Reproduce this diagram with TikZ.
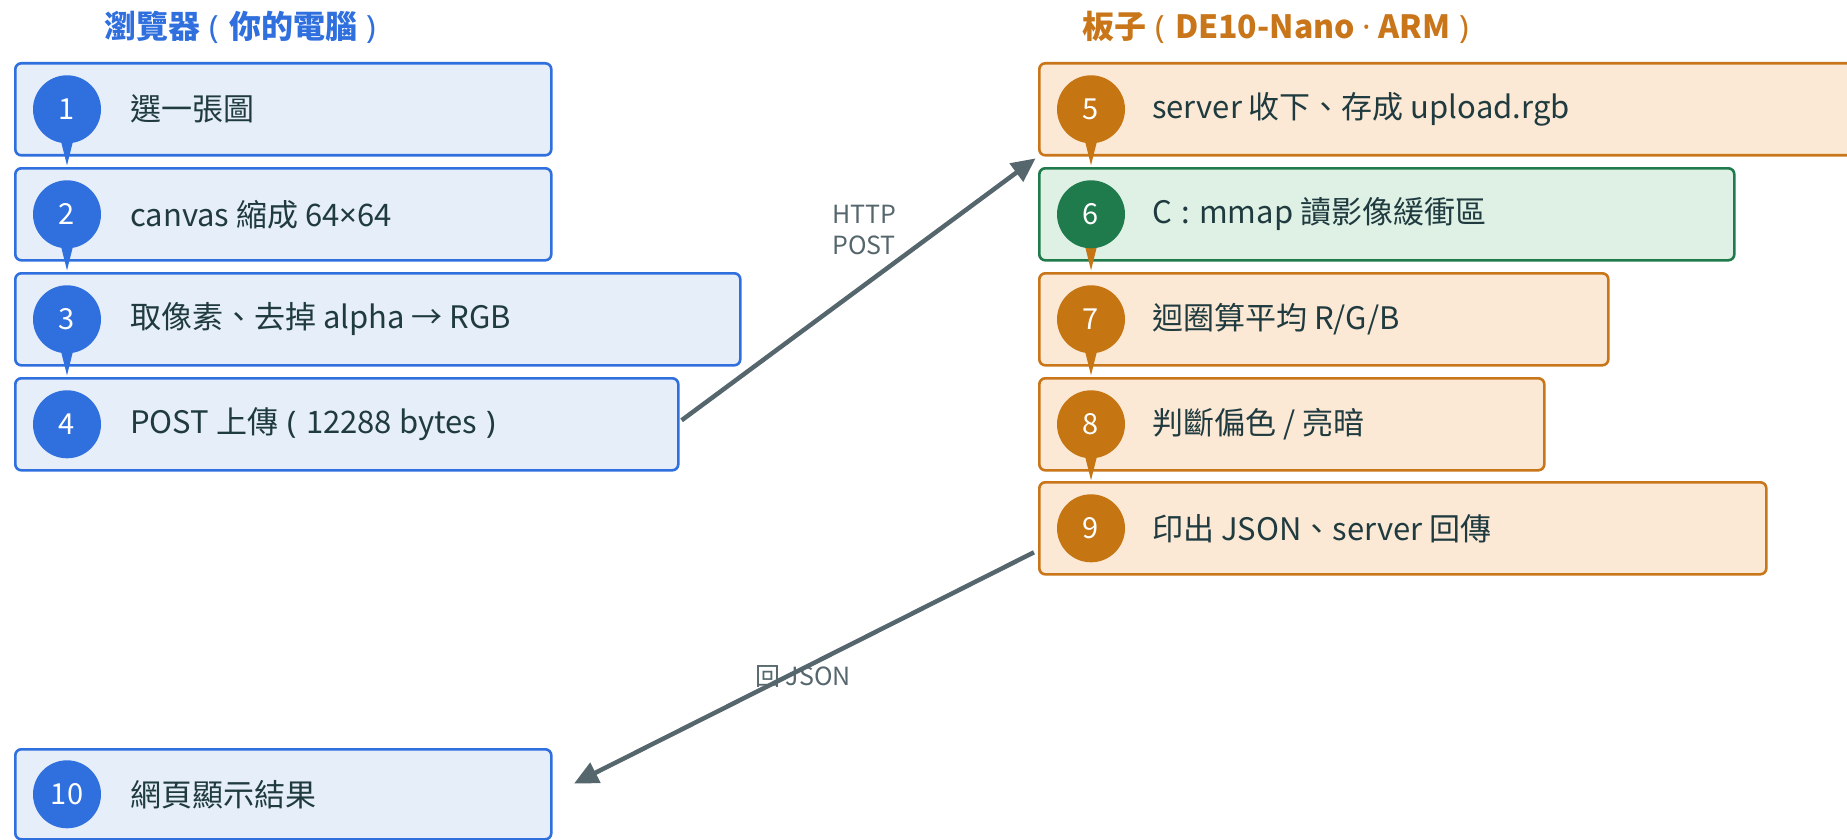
\documentclass[tikz,border=0pt]{standalone}
\usepackage{fontspec}
\setmainfont{Noto Sans CJK TC}
\newfontfamily\latinf{Noto Sans}
\usetikzlibrary{arrows.meta,calc}
\definecolor{bluel}{HTML}{2F6FDE}
\definecolor{bluef}{HTML}{E6EEFA}
\definecolor{orgl}{HTML}{C9761A}
\definecolor{orgc}{HTML}{C57512}
\definecolor{orgf}{HTML}{FBE8D5}
\definecolor{grnl}{HTML}{1F7A4C}
\definecolor{grnf}{HTML}{DFF1E5}
\definecolor{txt}{HTML}{1F3B3F}
\definecolor{arrc}{HTML}{56666D}
\newcommand{\lp}{\hspace{0.3em}{\latinf(}\hspace{0.3em}}
\newcommand{\rp}{\hspace{0.3em}{\latinf)}}
\begin{document}
\begin{tikzpicture}[x=1pt,y=-1pt,
  boxbase/.style={draw,rectangle,rounded corners=6pt,line width=2.6pt,minimum height=92pt,anchor=north west,inner sep=0pt},
  bbox/.style={boxbase,draw=bluel,fill=bluef},
  obox/.style={boxbase,draw=orgl,fill=orgf},
  gbox/.style={boxbase,draw=grnl,fill=grnf},
  numc/.style={circle,minimum size=68pt,inner sep=0pt,text=white,font=\fontsize{29}{30}\selectfont},
  bnum/.style={numc,fill=bluel},
  onum/.style={numc,fill=orgc},
  gnum/.style={numc,fill=grnl},
  steptext/.style={anchor=west,text=txt,font=\fontsize{31}{36}\selectfont,inner sep=0pt},
  lanetitle/.style={anchor=west,font=\bfseries\fontsize{32}{36}\selectfont,inner sep=0pt},
  arr/.style={draw=arrc,line width=4.5pt,-{Triangle[length=24pt,width=22pt]}},
  arrlabel/.style={text=arrc,font=\fontsize{25}{31}\selectfont,inner sep=0pt}
]
\useasboundingbox (0,0) rectangle (1847,840);
\clip (0,0) rectangle (1847,840);

% titles
\node[lanetitle,text=bluel] (t1) at (104,27) {瀏覽器\lp 你的電腦\rp};
\node[lanetitle,text=orgl] (t2) at (1082,27) {板子\lp DE10-Nano {\latinf\textbf{·}} ARM\rp};

% left boxes
\node[bbox,minimum width=536pt] (b1) at (14,62) {};
\node[bbox,minimum width=536pt] (b2) at (14,167) {};
\node[bbox,minimum width=725pt] (b3) at (14,272) {};
\node[bbox,minimum width=663pt] (b4) at (14,377) {};
\node[bbox,minimum width=536pt,minimum height=90pt] (b10) at (14,748) {};

% right boxes
\node[obox,minimum width=840pt] (b5) at (1038,62) {};
\node[gbox,minimum width=695pt] (b6) at (1038,167) {};
\node[obox,minimum width=569pt] (b7) at (1038,272) {};
\node[obox,minimum width=505pt] (b8) at (1038,377) {};
\node[obox,minimum width=727pt] (b9) at (1038,481) {};

% tails
\foreach \b/\c in {b1/bluel,b2/bluel,b3/bluel,b5/orgc,b6/orgc,b7/orgc,b8/orgc}{
  \fill[\c] ($(\b.west)+(45,24)$) -- ($(\b.west)+(61,24)$) -- ($(\b.west)+(53,56)$) -- cycle;
}

% circles
\node[bnum] (c1) at ($(b1.west)+(53,0)$) {1};
\node[bnum] (c2) at ($(b2.west)+(53,0)$) {2};
\node[bnum] (c3) at ($(b3.west)+(53,0)$) {3};
\node[bnum] (c4) at ($(b4.west)+(53,0)$) {4};
\node[bnum] (c10) at ($(b10.west)+(53,0)$) {10};
\node[onum] (c5) at ($(b5.west)+(53,0)$) {5};
\node[gnum] (c6) at ($(b6.west)+(53,0)$) {6};
\node[onum] (c7) at ($(b7.west)+(53,0)$) {7};
\node[onum] (c8) at ($(b8.west)+(53,0)$) {8};
\node[onum] (c9) at ($(b9.west)+(53,0)$) {9};

% texts
\node[steptext] (s1) at ($(b1.west)+(116,0)$) {選一張圖};
\node[steptext] (s2) at ($(b2.west)+(116,0)$) {canvas 縮成 64{\latinf ×}64};
\node[steptext] (s3) at ($(b3.west)+(116,0)$) {取像素、去掉 alpha → RGB};
\node[steptext] (s4) at ($(b4.west)+(116,0)$) {POST 上傳\lp 12288 bytes\rp};
\node[steptext] (s10) at ($(b10.west)+(116,0)$) {網頁顯示結果};
\node[steptext] (s5) at ($(b5.west)+(114,0)$) {server 收下、存成 upload.rgb};
\node[steptext] (s6) at ($(b6.west)+(114,0)$) {C\hspace{0.3em}:\hspace{0.3em}mmap 讀影像緩衝區};
\node[steptext] (s7) at ($(b7.west)+(114,0)$) {迴圈算平均 R/G/B};
\node[steptext] (s8) at ($(b8.west)+(114,0)$) {判斷偏色 / 亮暗};
\node[steptext] (s9) at ($(b9.west)+(114,0)$) {印出 JSON、server 回傳};

% arrows
\draw[arr,shorten >=3pt] ($(b4.east)+(2,-4)$) -- (b5.south west);
\node[arrlabel,anchor=north west,align=left] (l1) at (832,205) {HTTP\\POST};
\draw[arr,shorten >=24pt] ($(b9.west)+(-4,24)$) -- (b10.east);
\node[arrlabel] (l2) at (803,676) {回 JSON};
\end{tikzpicture}
\end{document}
